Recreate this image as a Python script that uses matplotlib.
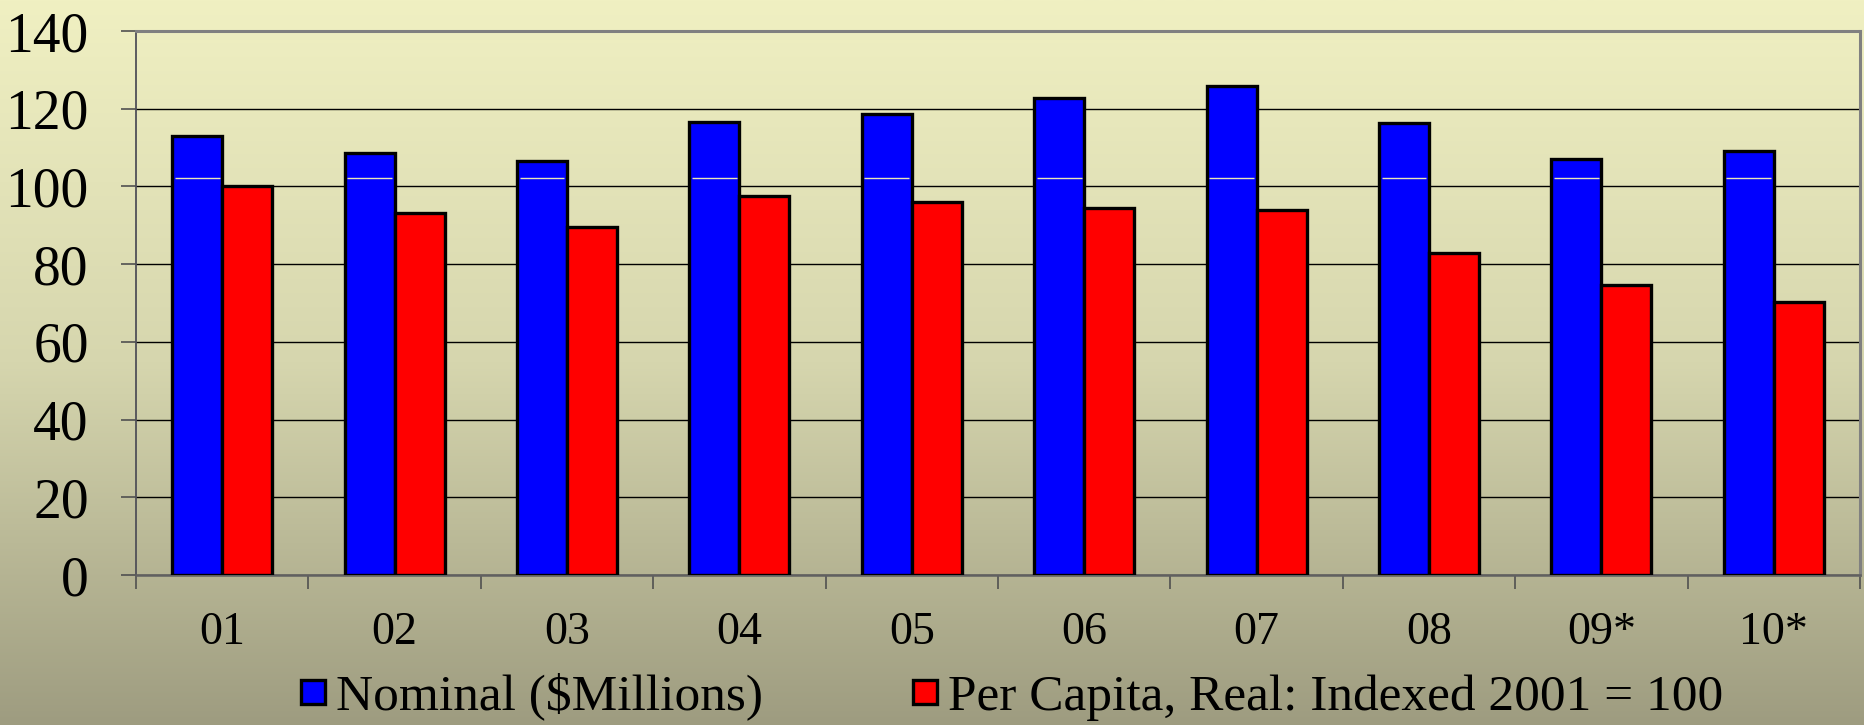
import numpy as np
import matplotlib
matplotlib.use("Agg")
import matplotlib.pyplot as plt
from matplotlib.colors import LinearSegmentedColormap
from matplotlib.lines import Line2D

categories = ["01", "02", "03", "04", "05", "06", "07", "08", "09*", "10*"]
nominal = [113.0, 108.5, 106.5, 116.7, 118.7, 122.7, 125.8, 116.2, 107.0, 109.0]
per_capita = [100.0, 93.2, 89.6, 97.5, 96.0, 94.5, 93.9, 82.8, 74.6, 70.3]
series_names = ["Nominal ($Millions)", "Per Capita, Real: Indexed 2001 = 100"]
y_ticks = [0, 20, 40, 60, 80, 100, 120, 140]
inner_line_value = 102.2

plt.rcParams['font.family'] = ['Liberation Serif', 'DejaVu Serif']

W, H, DPI = 1864, 725, 100
fig = plt.figure(figsize=(W / DPI, H / DPI), dpi=DPI)

# background gradient
bg = fig.add_axes([0, 0, 1, 1], zorder=-10)
cmap = LinearSegmentedColormap.from_list("bg", ["#F0F0C2", "#D6D6AE", "#9E9C80"])
grad = np.linspace(0, 1, 256).reshape(-1, 1)
bg.imshow(grad, aspect="auto", cmap=cmap, extent=[0, 1, 0, 1], origin="upper")
bg.set_axis_off()

ax = fig.add_axes([136 / W, 1 - 575 / H, (1860 - 136) / W, (575 - 31) / H])
ax.patch.set_alpha(0)

x = np.arange(len(categories))
w = 0.29
ax.bar(x - w / 2, nominal, w, color="#0000FF", edgecolor="black", linewidth=2.4, zorder=3)
ax.bar(x + w / 2, per_capita, w, color="#FF0000", edgecolor="black", linewidth=2.4, zorder=3)
ax.hlines([inner_line_value] * len(x), x - w + 0.015, x - 0.015, color="#E8E6B8", linewidth=1.0, zorder=4)

ax.set_ylim(0, 140)
ax.set_xlim(-0.5, len(categories) - 0.5)
ax.set_yticks(y_ticks)
ax.set_yticklabels([str(t) for t in y_ticks], fontsize=40)
ax.yaxis.grid(True, color="black", linewidth=1.0, zorder=0)
ax.set_axisbelow(True)
ax.tick_params(axis="y", length=11, width=1.2, color="#505050", pad=23)

ax.set_xticks(x)
ax.set_xticklabels(categories, fontsize=33)
ax.set_xticks(np.arange(-0.5, len(categories), 1.0), minor=True)
ax.tick_params(axis="x", which="major", length=0, pad=26)
ax.tick_params(axis="x", which="minor", length=10, width=1.2, color="#505050")

for s in ["top", "right"]:
    ax.spines[s].set_color("#808080")
    ax.spines[s].set_linewidth(2.2)
ax.spines["left"].set_color("#505058")
ax.spines["left"].set_linewidth(1.3)
ax.spines["bottom"].set_color("#606060")
ax.spines["bottom"].set_linewidth(1.8)

handles = [
    Line2D([], [], marker="s", linestyle="none", markersize=17, markerfacecolor="#0000FF",
           markeredgecolor="black", markeredgewidth=2.4),
    Line2D([], [], marker="s", linestyle="none", markersize=17, markerfacecolor="#FF0000",
           markeredgecolor="black", markeredgewidth=2.4),
]
fig.legend(handles, series_names, loc="center", bbox_to_anchor=(0.542, 0.039), ncol=2,
           frameon=False, fontsize=37, handlelength=0.6, handletextpad=0.15,
           columnspacing=2.85, borderpad=0)

fig.savefig("out.png", dpi=DPI)
